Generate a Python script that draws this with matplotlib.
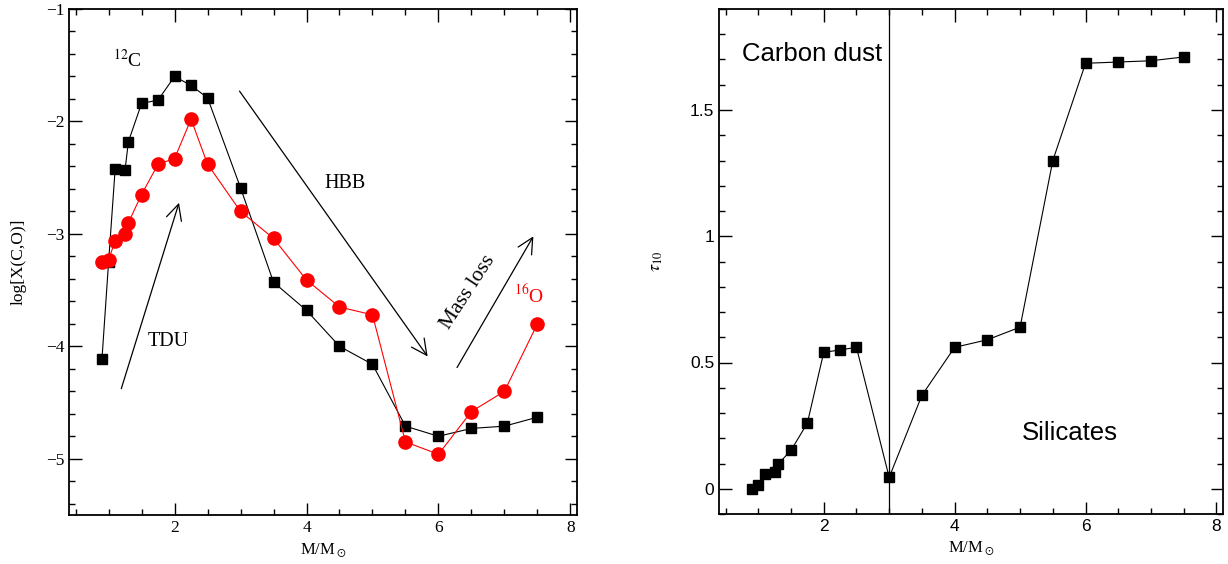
import matplotlib
matplotlib.use('Agg')
import matplotlib.pyplot as plt
from matplotlib.ticker import MultipleLocator

# stellar masses (M/Msun)
mass = [0.9, 1.0, 1.1, 1.25, 1.3, 1.5, 1.75, 2.0, 2.25, 2.5,
        3.0, 3.5, 4.0, 4.5, 5.0, 5.5, 6.0, 6.5, 7.0, 7.5]

# log X(12C) and log X(16O)
logC = [-4.11, -3.25, -2.42, -2.43, -2.18, -1.84, -1.81, -1.60, -1.68, -1.79,
        -2.59, -3.43, -3.68, -4.00, -4.16, -4.71, -4.80, -4.73, -4.71, -4.63]
logO = [-3.25, -3.23, -3.06, -3.00, -2.90, -2.65, -2.38, -2.33, -1.98, -2.38,
        -2.80, -3.04, -3.41, -3.65, -3.72, -4.85, -4.96, -4.58, -4.40, -3.80]

# optical depth at 10 micron
tau10 = [0.0, 0.013, 0.06, 0.067, 0.097, 0.152, 0.26, 0.54, 0.55, 0.56,
         0.045, 0.37, 0.56, 0.59, 0.64, 1.30, 1.685, 1.69, 1.695, 1.71]

serif = 'Liberation Serif'
plt.rcParams['mathtext.fontset'] = 'stix'

fig = plt.figure(figsize=(12.28, 5.64), dpi=100)
ax1 = fig.add_axes([69/1228, 49/564, 508/1228, 506/564])
ax2 = fig.add_axes([719/1228, 50/564, 504/1228, 505/564])


def style(ax, xminor, yminor):
    ax.xaxis.set_minor_locator(MultipleLocator(xminor))
    ax.yaxis.set_minor_locator(MultipleLocator(yminor))
    ax.tick_params(which='both', direction='in', top=True, right=True, width=1.0)
    ax.tick_params(which='major', length=9)
    ax.tick_params(which='minor', length=4.5)
    for s in ax.spines.values():
        s.set_linewidth(1.3)


# left panel: surface abundances
ax1.plot(mass, logC, color='black', lw=0.8, marker='s', ms=7, mec='black')
ax1.plot(mass, logO, color='red', lw=0.8, marker='o', ms=9.5, mec='red')
ax1.set_xlim(0.4, 8.1)
ax1.set_ylim(-5.5, -1)
ax1.set_xticks([2, 4, 6, 8])
ax1.set_yticks([-5, -4, -3, -2, -1])
style(ax1, 0.5, 0.2)
for lab in ax1.get_xticklabels() + ax1.get_yticklabels():
    lab.set_family(serif)
    lab.set_fontsize(12.5)
ax1.set_xlabel(r'M/M$_\odot$', family=serif, fontsize=12)
ax1.set_ylabel('log[X(C,O)]', family=serif, fontsize=12.5, labelpad=14)

arrow = dict(arrowstyle='->', color='black', lw=0.9, mutation_scale=28)
ax1.annotate('', xy=(2.08, -2.70), xytext=(1.18, -4.40), arrowprops=arrow)
ax1.annotate('', xy=(5.86, -4.11), xytext=(2.96, -1.71), arrowprops=arrow)
ax1.annotate('', xy=(7.46, -3.00), xytext=(6.26, -4.21), arrowprops=arrow)
ax1.text(1.9, -3.96, 'TDU', family=serif, fontsize=14.5, ha='center', va='center')
ax1.text(4.58, -2.55, 'HBB', family=serif, fontsize=14.5, ha='center', va='center')
ax1.text(6.45, -3.52, 'Mass loss', family=serif, fontsize=15.5, ha='center', va='center',
         rotation=57, rotation_mode='anchor')
ax1.text(1.29, -1.45, r'$^{12}$C', family=serif, fontsize=14, ha='center', va='center')
ax1.text(7.38, -3.55, r'$^{16}$O', family=serif, fontsize=14, ha='center', va='center',
         color='red')

# right panel: tau_10
ax2.plot(mass, tau10, color='black', lw=0.8, marker='s', ms=7, mec='black')
ax2.axvline(3.0, color='black', lw=0.9)
ax2.set_xlim(0.4, 8.1)
ax2.set_ylim(-0.1, 1.9)
ax2.set_xticks([2, 4, 6, 8])
ax2.set_yticks([0, 0.5, 1, 1.5])
ax2.set_yticklabels(['0', '0.5', '1', '1.5'])
style(ax2, 0.5, 0.1)
for lab in ax2.get_xticklabels() + ax2.get_yticklabels():
    lab.set_family('Liberation Sans')
    lab.set_fontsize(12.5)
ax2.set_xlabel(r'M/M$_\odot$', family=serif, fontsize=12)
ax2.set_ylabel(r'$\tau_{10}$', fontsize=13, labelpad=18)
ax2.text(1.82, 1.72, 'Carbon dust', family='Liberation Sans', fontsize=18.5,
         ha='center', va='center')
ax2.text(5.76, 0.22, 'Silicates', family='Liberation Sans', fontsize=18.5,
         ha='center', va='center')

fig.savefig('out.png', dpi=100)
